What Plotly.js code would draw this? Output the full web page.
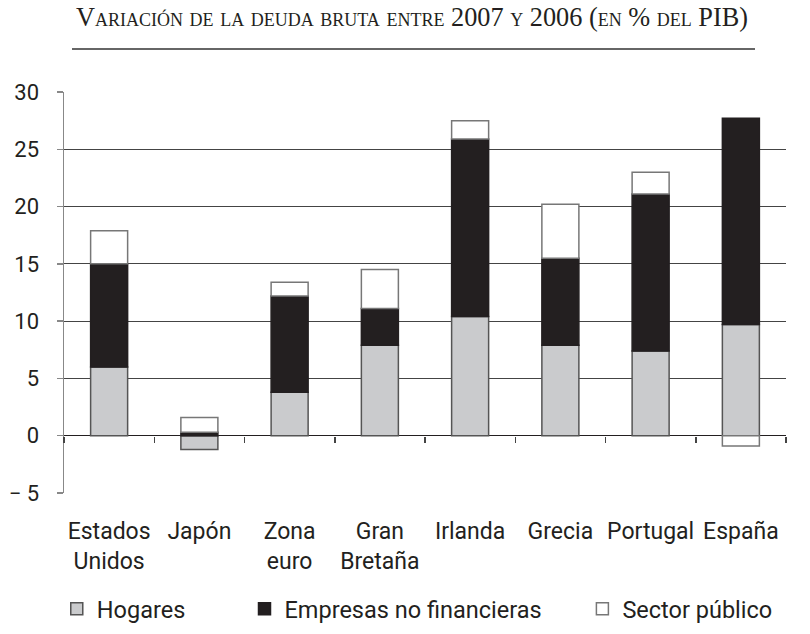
<!DOCTYPE html>
<html>
<head>
<meta charset="utf-8">
<script src="https://cdn.plot.ly/plotly-3.0.1.min.js"></script>
<style>html,body{margin:0;padding:0;background:#fff;}#chart{width:810px;height:634px;}</style>
</head>
<body>
<div id="chart"></div>
<script>
const categories = ['Estados<br>Unidos','Japón','Zona<br>euro','Gran<br>Bretaña','Irlanda','Grecia','Portugal','España'];
const hogares  = [6.0, -1.2, 3.8, 7.9, 10.4, 7.9, 7.4, 9.7];
const empresas = [9.0, 0.3, 8.4, 3.2, 15.5, 7.6, 13.7, 18.0];
const sector   = [2.9, 1.3, 1.2, 3.4, 1.6, 4.7, 1.9, -0.9];
const yTickVals = [-5, 0, 5, 10, 15, 20, 25, 30];
const yTickText = ['\u2212 5', '0', '5', '10', '15', '20', '25', '30'];
const seriesNames = ['Hogares', 'Empresas no financieras', 'Sector público'];
const titleText = 'Variación de la deuda bruta entre 2007 y 2006 (en % del PIB)';

const FONT = 'Roboto, "Open Sans", sans-serif';
const BW = 0.41;

const traces = [
  {type:'bar', x:categories, y:hogares, name:seriesNames[0], width:BW,
   marker:{color:'#cacbcd', line:{color:'#555', width:1.5}}, legend:'legend'},
  {type:'bar', x:categories, y:empresas, name:seriesNames[1], width:BW,
   marker:{color:'#231f20', line:{color:'#231f20', width:1.5}}, legend:'legend2'},
  {type:'bar', x:categories, y:sector, name:seriesNames[2], width:BW,
   marker:{color:'#ffffff', line:{color:'#777', width:1.5}}, legend:'legend3'},
  {type:'scatter', mode:'markers', x:categories, y:categories.map(()=>null),
   xaxis:'x2', yaxis:'y', showlegend:false, hoverinfo:'skip'}
];

const legendBase = {orientation:'h', yanchor:'middle', y:-0.289, xanchor:'left',
  bgcolor:'rgba(0,0,0,0)', font:{family:FONT, size:23.5, color:'#231f20'}, itemclick:false};

const layout = {
  width:810, height:634,
  margin:{l:64, r:24, t:92, b:141, autoexpand:false},
  paper_bgcolor:'#fff', plot_bgcolor:'#fff',
  barmode:'relative',
  title:{text:titleText, x:412/810, xanchor:'center', xref:'container', y:1-17/634, yanchor:'middle',
    font:{family:'"Liberation Serif", "DejaVu Serif", serif', size:26.3, color:'#231f20', variant:'small-caps'}},
  xaxis:{type:'category', range:[-0.5, 7.5], showgrid:false, showline:false, zeroline:false,
    ticks:'', ticklabelstandoff:22, tickfont:{family:FONT, size:23, color:'#231f20'}},
  xaxis2:{type:'category', overlaying:'x', anchor:'free', position:5/35, range:[-0.5, 7.5],
    categoryorder:'array', categoryarray:categories,
    showgrid:false, showline:false, zeroline:false, ticks:'outside', tickson:'boundaries',
    ticklen:6, tickwidth:1.5, tickcolor:'#444', showticklabels:false},
  yaxis:{range:[-5, 30], tickvals:yTickVals, ticktext:yTickText, showgrid:true, gridcolor:'#444', gridwidth:1,
    zeroline:true, zerolinecolor:'#231f20', zerolinewidth:1.5,
    showline:true, linecolor:'#888', linewidth:1.5,
    ticks:'outside', ticklen:6, tickcolor:'#888', tickwidth:1.5, ticklabelstandoff:13,
    tickfont:{family:FONT, size:22, color:'#231f20'}},
  legend:Object.assign({}, legendBase, {x:-0.01}),
  legend2:Object.assign({}, legendBase, {x:0.25}),
  legend3:Object.assign({}, legendBase, {x:0.718}),
  shapes:[{type:'line', xref:'paper', yref:'paper', x0:(72-64)/722, x1:(755-64)/722,
    y0:(493-49)/401, y1:(493-49)/401, line:{color:'#333', width:1.5}}],
  showlegend:true
};

Plotly.newPlot('chart', traces, layout, {displayModeBar:false, staticPlot:true});
</script>
</body>
</html>
